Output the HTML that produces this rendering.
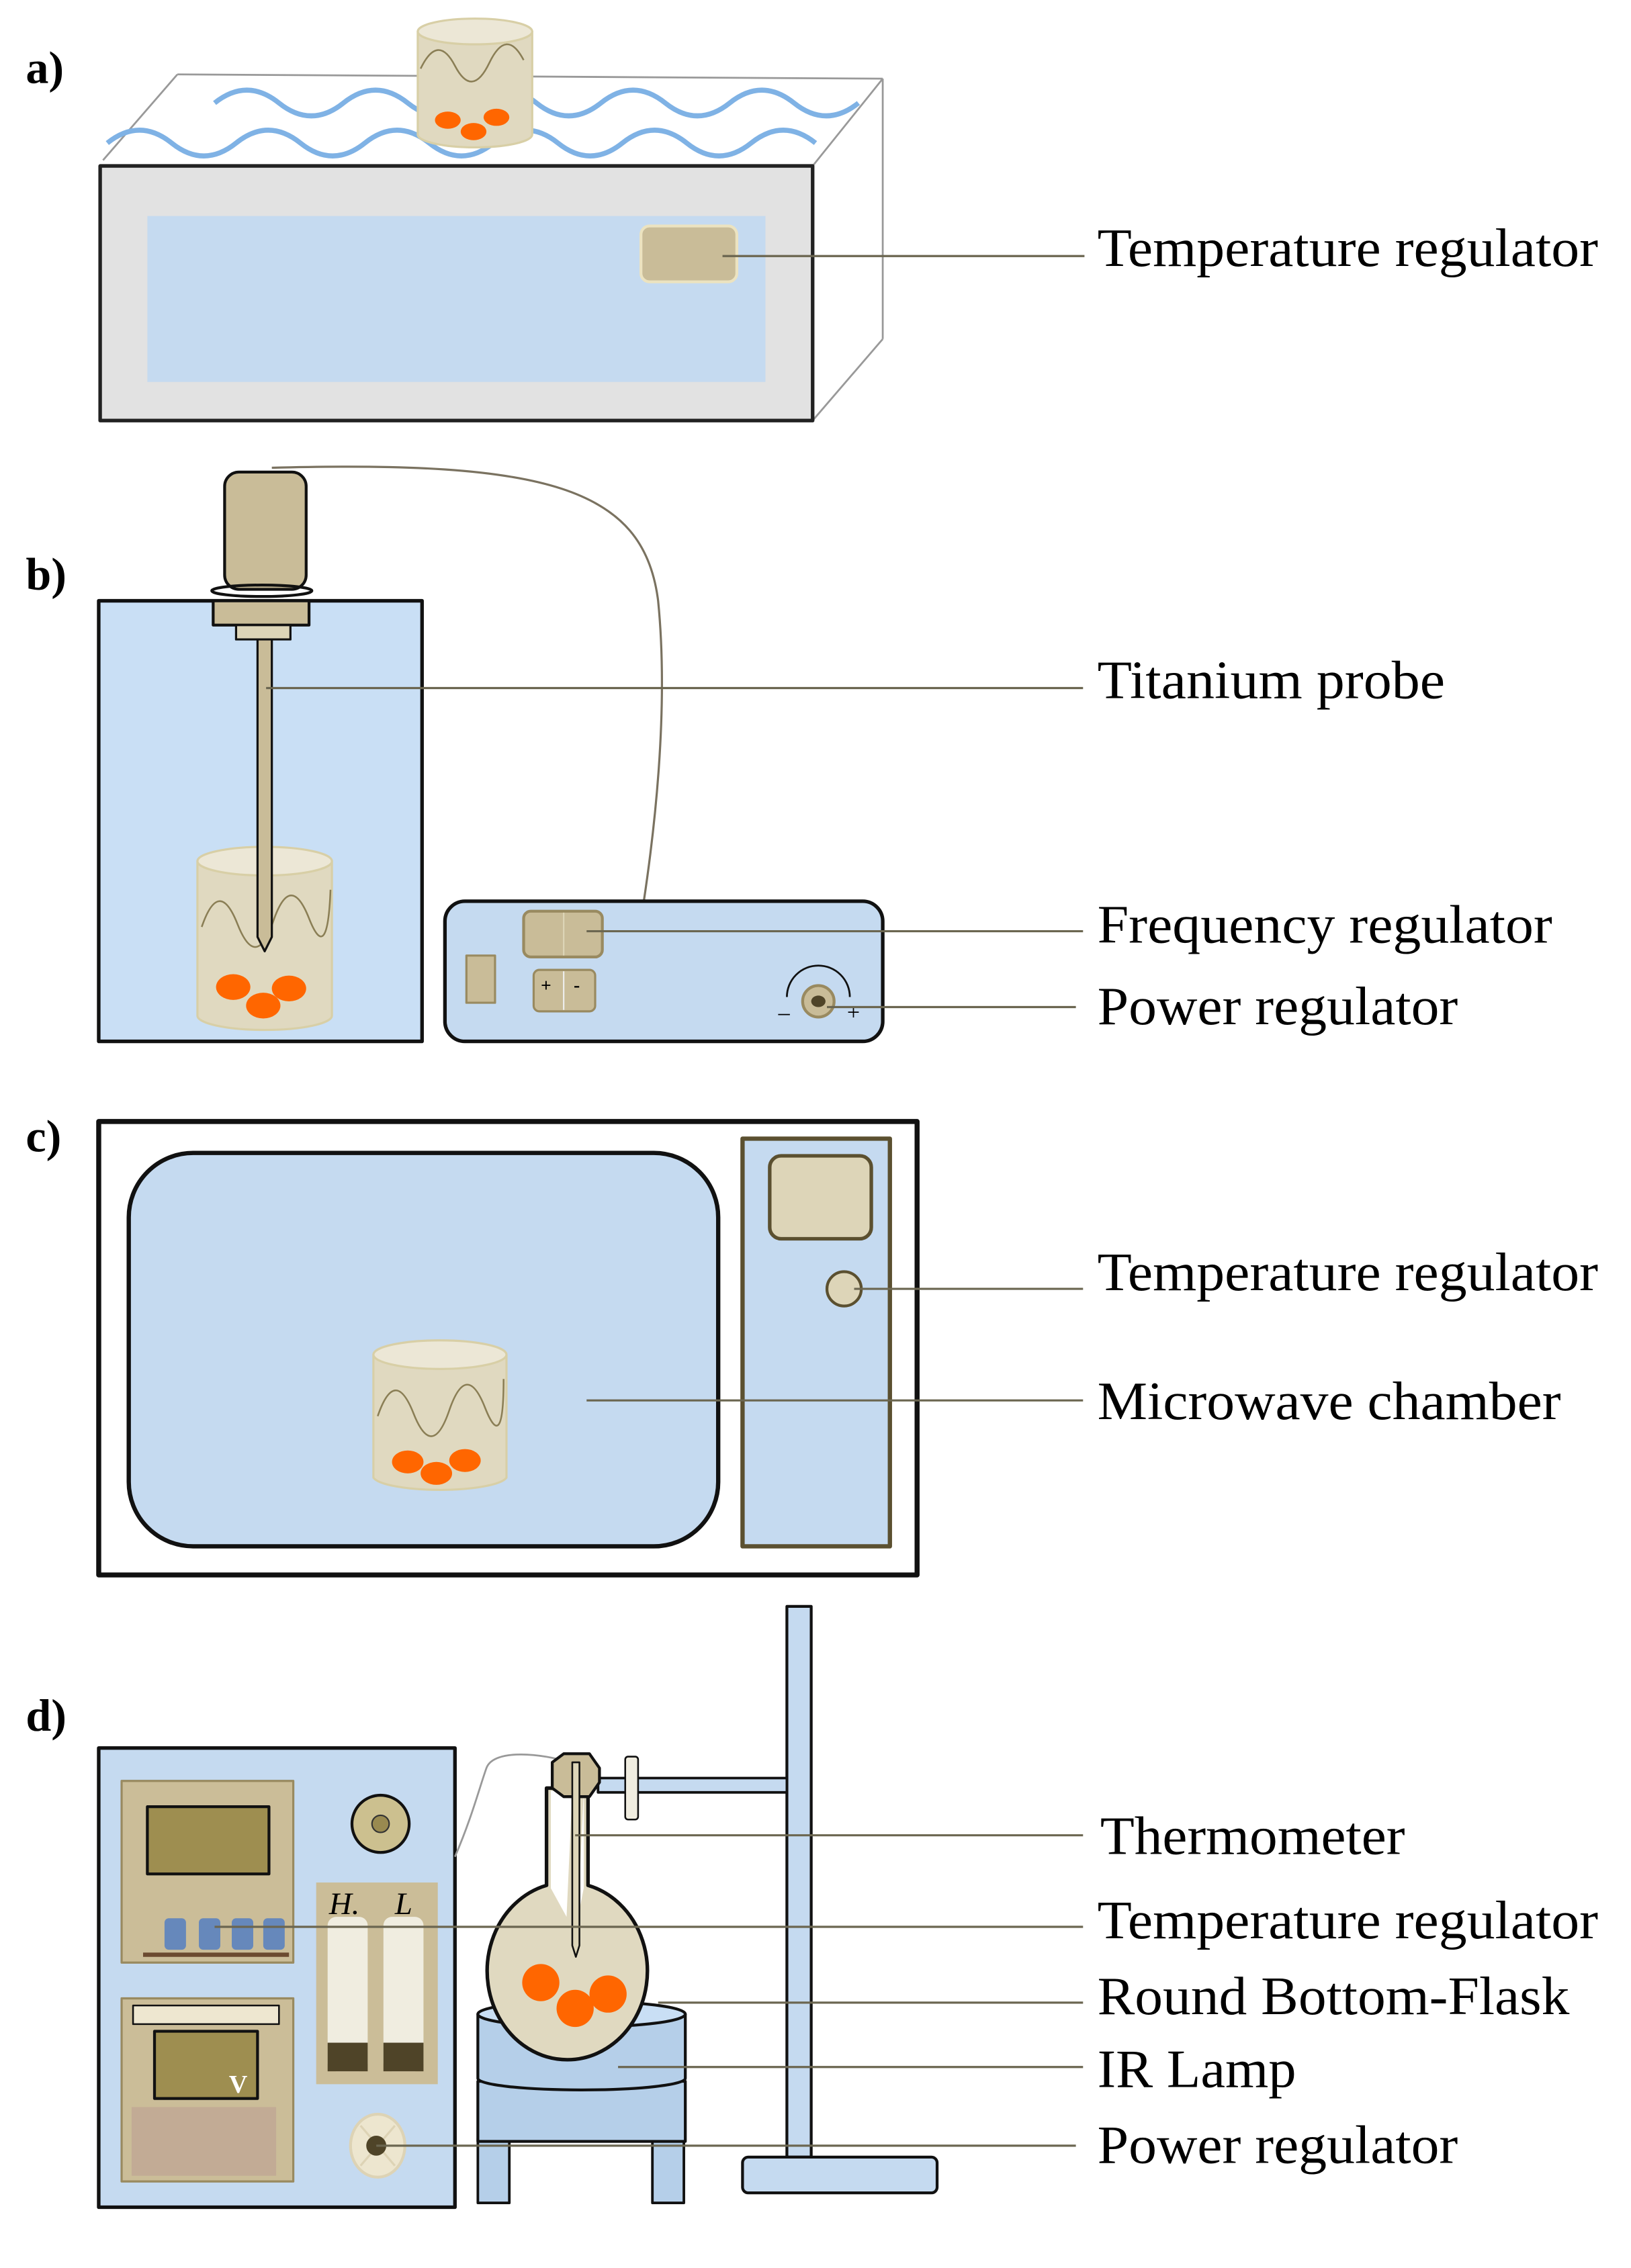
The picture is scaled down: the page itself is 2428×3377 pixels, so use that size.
<!DOCTYPE html>
<html><head><meta charset="utf-8"><style>html,body{margin:0;padding:0;background:#fff}svg{display:block}</style></head>
<body>
<svg width="2428" height="3377" viewBox="0 0 1140 1585.5" preserveAspectRatio="none" xmlns="http://www.w3.org/2000/svg" font-family="Liberation Serif, serif">
<g stroke-linejoin="round">
<!-- a -->
<text x="18" y="58" font-size="32" font-weight="bold">a)</text>
<g stroke="#999" stroke-width="1.3" fill="none">
<line x1="72" y1="112" x2="124" y2="52"/><line x1="124" y1="52" x2="617" y2="55"/>
<line x1="617" y1="55" x2="617" y2="237"/><line x1="617" y1="237" x2="568" y2="294"/>
<line x1="568" y1="116" x2="617" y2="55"/>
</g>
<g stroke="#7fb2e5" stroke-width="3.5" fill="none">
<path d="M150 72 q22.5 -18 45 0 t45 0 t45 0 t45 0 t45 0 t45 0 t45 0 t45 0 t45 0 t45 0"/>
<path d="M75 100 q22.5 -18 45 0 t45 0 t45 0 t45 0 t45 0 t45 0 t45 0 t45 0 t45 0 t45 0 t45 0"/>
</g>
<rect x="70" y="116" width="498" height="178" fill="#e2e2e2" stroke="#222" stroke-width="2.5"/>
<rect x="103" y="151" width="432" height="116" fill="#c5daf0"/>
<rect x="448" y="158" width="67" height="39" rx="6" fill="#c9bc98" stroke="#ece3c0" stroke-width="2"/>
<path d="M292 22 v72 a40 9 0 0 0 80 0 v-72z" fill="#e0d9c0" stroke="#d8cfa6" stroke-width="1.5"/>
<ellipse cx="332" cy="22" rx="40" ry="9" fill="#ece7d6" stroke="#d8cfa6" stroke-width="1.5"/>
<path d="M294 48 q12 -25 24 -2 t24 -2 t24 -2" fill="none" stroke="#8a7e55" stroke-width="1.2"/>
<g fill="#ff6600"><ellipse cx="313" cy="84" rx="9" ry="6"/><ellipse cx="331" cy="92" rx="9" ry="6"/><ellipse cx="347" cy="82" rx="9" ry="6"/></g>
<line x1="505" y1="179" x2="758" y2="179" stroke="#6b6650" stroke-width="1.5"/>
<text x="767" y="186" font-size="38" textLength="350" lengthAdjust="spacingAndGlyphs">Temperature regulator</text>

<!-- b -->
<text x="18" y="412" font-size="32" font-weight="bold">b)</text>
<path d="M190 327 C380 322 450 340 460 420 C468 500 456 590 450 630" fill="none" stroke="#7a7260" stroke-width="1.5"/>
<rect x="69" y="420" width="226" height="308" fill="#c9dff5" stroke="#111" stroke-width="2.5"/>
<rect x="157" y="330" width="57" height="82" rx="10" fill="#c9bc98" stroke="#111" stroke-width="2"/>
<ellipse cx="183" cy="413" rx="35" ry="4" fill="none" stroke="#111" stroke-width="2"/>
<rect x="149" y="420" width="67" height="17" fill="#c9bc98" stroke="#111" stroke-width="2"/>
<rect x="165" y="437" width="38" height="10" fill="#ddd5b8" stroke="#111" stroke-width="1.5"/>
<path d="M138 602 v108 a47 10 0 0 0 94 0 v-108z" fill="#e0d9c0" stroke="#d8cfa6" stroke-width="1.5"/>
<ellipse cx="185" cy="602" rx="47" ry="10" fill="#ece7d6" stroke="#d8cfa6" stroke-width="1.5"/>
<path d="M141 648 q12 -35 25 -2 t25 -2 t25 -2 t15 -20" fill="none" stroke="#8a7e55" stroke-width="1.2"/>
<g fill="#ff6600"><ellipse cx="163" cy="690" rx="12" ry="9"/><ellipse cx="184" cy="703" rx="12" ry="9"/><ellipse cx="202" cy="691" rx="12" ry="9"/></g>
<path d="M180 447 h10 v208 l-5 10 l-5 -10z" fill="#c9bc98" stroke="#111" stroke-width="1.5"/>
<line x1="186" y1="481" x2="757" y2="481" stroke="#6b6650" stroke-width="1.5"/>
<text x="767" y="488" font-size="38" textLength="243" lengthAdjust="spacingAndGlyphs">Titanium probe</text>
<rect x="311" y="630" width="306" height="98" rx="14" fill="#c5daf0" stroke="#111" stroke-width="2.5"/>
<rect x="326" y="668" width="20" height="33" fill="#c9bc98" stroke="#998a60" stroke-width="1.5"/>
<rect x="366" y="637" width="55" height="32" rx="5" fill="#c9bc98" stroke="#998a60" stroke-width="2"/>
<line x1="394" y1="638" x2="394" y2="668" stroke="#ddd5b8"/>
<rect x="373" y="678" width="43" height="29" rx="4" fill="#c9bc98" stroke="#998a60" stroke-width="1.5"/>
<line x1="394" y1="679" x2="394" y2="706" stroke="#eee"/>
<text x="378" y="693" font-size="13" font-weight="bold">+</text><text x="401" y="693" font-size="13" font-weight="bold">-</text>
<path d="M550 697 a22 22 0 0 1 44 0" fill="none" stroke="#111" stroke-width="1.3"/>
<circle cx="572" cy="700" r="11" fill="#c9bc98" stroke="#998a60" stroke-width="2"/>
<ellipse cx="572" cy="700" rx="5" ry="4" fill="#4f4428"/>
<text x="544" y="713" font-size="16">–</text><text x="592" y="713" font-size="16">+</text>
<line x1="410" y1="651" x2="757" y2="651" stroke="#6b6650" stroke-width="1.5"/>
<text x="767" y="659" font-size="38" textLength="318" lengthAdjust="spacingAndGlyphs">Frequency regulator</text>
<line x1="578" y1="704" x2="752" y2="704" stroke="#6b6650" stroke-width="1.5"/>
<text x="767" y="716" font-size="38" textLength="252" lengthAdjust="spacingAndGlyphs">Power regulator</text>

<!-- c -->
<text x="18" y="805" font-size="32" font-weight="bold">c)</text>
<rect x="69" y="784" width="572" height="317" fill="#fff" stroke="#111" stroke-width="3.5"/>
<rect x="90" y="806" width="412" height="275" rx="45" fill="#c5daf0" stroke="#111" stroke-width="3"/>
<rect x="519" y="796" width="103" height="285" fill="#c5daf0" stroke="#5b5030" stroke-width="3"/>
<rect x="538" y="808" width="71" height="58" rx="8" fill="#ddd5b8" stroke="#5b5030" stroke-width="2.5"/>
<circle cx="590" cy="901" r="12" fill="#ddd5b8" stroke="#5b5030" stroke-width="2"/>
<path d="M261 947 v86 a47 10 0 0 0 93 0 v-86z" fill="#e0d9c0" stroke="#d8cfa6" stroke-width="1.5"/>
<ellipse cx="307.5" cy="947" rx="46.5" ry="10" fill="#ece7d6" stroke="#d8cfa6" stroke-width="1.5"/>
<path d="M264 990 q12 -35 25 -2 t25 -2 t25 -2 t13 -20" fill="none" stroke="#8a7e55" stroke-width="1.2"/>
<g fill="#ff6600"><ellipse cx="285" cy="1022" rx="11" ry="8"/><ellipse cx="305" cy="1030" rx="11" ry="8"/><ellipse cx="325" cy="1021" rx="11" ry="8"/></g>
<line x1="597" y1="901" x2="757" y2="901" stroke="#6b6650" stroke-width="1.5"/>
<text x="767" y="902" font-size="38" textLength="350" lengthAdjust="spacingAndGlyphs">Temperature regulator</text>
<line x1="410" y1="979" x2="757" y2="979" stroke="#6b6650" stroke-width="1.5"/>
<text x="767" y="992" font-size="38" textLength="324" lengthAdjust="spacingAndGlyphs">Microwave chamber</text>

<!-- d -->
<text x="18" y="1210" font-size="32" font-weight="bold">d)</text>
<rect x="550" y="1123" width="17" height="385" fill="#c5daf0" stroke="#111" stroke-width="2"/>
<rect x="519" y="1508" width="136" height="25" rx="4" fill="#c5daf0" stroke="#111" stroke-width="2"/>
<rect x="418" y="1243" width="132" height="10" fill="#c5daf0" stroke="#111" stroke-width="1.8"/>
<rect x="437" y="1228" width="9" height="44" rx="2" fill="#f0ede0" stroke="#111" stroke-width="1.2"/>
<rect x="69" y="1222" width="249" height="321" fill="#c5daf0" stroke="#111" stroke-width="2.5"/>
<rect x="85" y="1245" width="120" height="127" fill="#cbbd98" stroke="#998a60" stroke-width="1.5"/>
<rect x="103" y="1263" width="85" height="47" fill="#9e8e50" stroke="#111" stroke-width="2"/>
<g fill="#6688bb"><rect x="115" y="1341" width="15" height="22" rx="3"/><rect x="139" y="1341" width="15" height="22" rx="3"/><rect x="162" y="1341" width="15" height="22" rx="3"/><rect x="184" y="1341" width="15" height="22" rx="3"/></g>
<rect x="100" y="1365" width="102" height="3" fill="#6b4a30"/>
<rect x="85" y="1397" width="120" height="128" fill="#cbbd98" stroke="#998a60" stroke-width="1.5"/>
<rect x="93" y="1402" width="102" height="13" fill="#eee7d0" stroke="#111" stroke-width="1.2"/>
<rect x="108" y="1420" width="72" height="47" fill="#9e8e50" stroke="#111" stroke-width="2"/>
<text x="160" y="1463" font-size="18" font-weight="bold" fill="#fff">V</text>
<rect x="92" y="1473" width="101" height="48" fill="#c2ab95"/>
<circle cx="266" cy="1275" r="20" fill="#ccc08f" stroke="#111" stroke-width="2"/>
<circle cx="266" cy="1275" r="6" fill="#998a50" stroke="#333" stroke-width="1"/>
<rect x="221" y="1316" width="85" height="141" fill="#cbbd98"/>
<text x="230" y="1338" font-size="22" font-style="italic">H.</text><text x="276" y="1338" font-size="22" font-style="italic">L</text>
<rect x="229" y="1340" width="28" height="108" rx="6" fill="#f0ede0"/><rect x="268" y="1340" width="28" height="108" rx="6" fill="#f0ede0"/>
<rect x="229" y="1428" width="28" height="20" fill="#4f4428"/><rect x="268" y="1428" width="28" height="20" fill="#4f4428"/>
<ellipse cx="264" cy="1500" rx="19" ry="22" fill="#ede6cf" stroke="#ddd3b5" stroke-width="2"/>
<path d="M252 1486 l24 28 M276 1486 l-24 28" stroke="#ddd3b5" stroke-width="1.5"/>
<circle cx="263" cy="1500" r="7" fill="#4f4428"/>
<path d="M318 1298 C330 1270 335 1250 340 1236 C345 1222 380 1226 398 1232" fill="none" stroke="#999" stroke-width="1.3"/>
<!-- hot plate -->
<rect x="334" y="1495" width="22" height="45" fill="#b5cfe9" stroke="#111" stroke-width="1.8"/>
<rect x="456" y="1495" width="22" height="45" fill="#b5cfe9" stroke="#111" stroke-width="1.8"/>
<rect x="334" y="1455" width="145" height="42" fill="#b5cfe9" stroke="#111" stroke-width="2"/>
<path d="M334 1408 v45 a72.5 8 0 0 0 145 0 v-45z" fill="#b5cfe9" stroke="#111" stroke-width="2"/>
<ellipse cx="406.5" cy="1408" rx="72.5" ry="9" fill="#c9dff5" stroke="#111" stroke-width="2"/>
<!-- flask -->
<path d="M382 1250 L382 1318 A56 62 0 1 0 411 1318 L411 1250 Z" fill="#e0d9c0" stroke="#111" stroke-width="2.5"/>
<path d="M385 1252 L385 1320 L396 1340 L400 1252 Z M408 1252 L408 1320 L404 1340 Z" fill="#fff"/>
<g fill="#ff6600"><circle cx="378" cy="1386" r="13"/><circle cx="402" cy="1404" r="13"/><circle cx="425" cy="1394" r="13"/></g>
<path d="M386 1232 l8 -6 h18 l7 10 v10 l-7 10 h-18 l-8 -6z" fill="#c9bc98" stroke="#111" stroke-width="2"/>
<path d="M400 1232 h5 v128 l-2.5 8 l-2.5 -8z" fill="#ddd5b8" stroke="#111" stroke-width="1.2"/>
<!-- leaders -->
<g stroke="#6b6650" stroke-width="1.5">
<line x1="402" y1="1283" x2="757" y2="1283"/>
<line x1="150" y1="1347" x2="757" y2="1347"/>
<line x1="460" y1="1400" x2="757" y2="1400"/>
<line x1="432" y1="1445" x2="757" y2="1445"/>
<line x1="263" y1="1500" x2="752" y2="1500"/>
</g>
<text x="769" y="1296" font-size="38" textLength="213" lengthAdjust="spacingAndGlyphs">Thermometer</text>
<text x="767" y="1355" font-size="38" textLength="350" lengthAdjust="spacingAndGlyphs">Temperature regulator</text>
<text x="767" y="1408" font-size="38" textLength="330" lengthAdjust="spacingAndGlyphs">Round Bottom-Flask</text>
<text x="767" y="1459" font-size="38" textLength="139" lengthAdjust="spacingAndGlyphs">IR Lamp</text>
<text x="767" y="1512" font-size="38" textLength="252" lengthAdjust="spacingAndGlyphs">Power regulator</text>
</g>
</svg>
</body></html>
